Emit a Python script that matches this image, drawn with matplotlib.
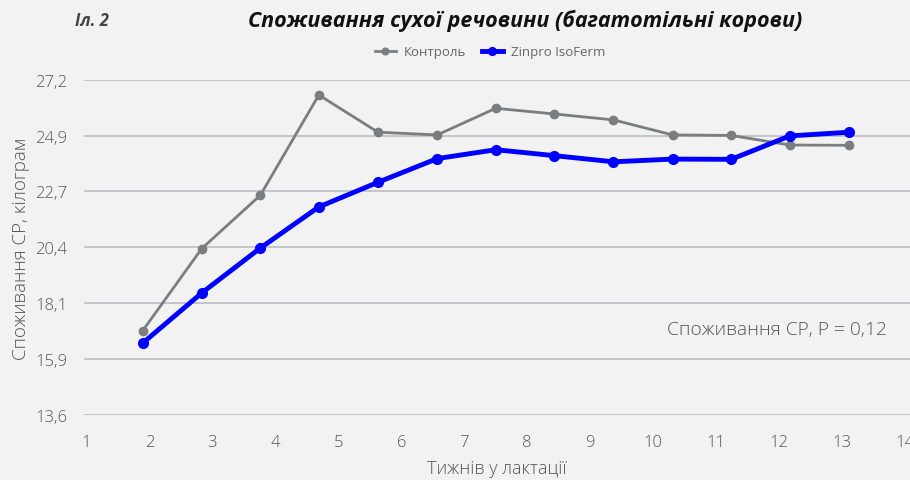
import numpy as np
import matplotlib
matplotlib.use('Agg')
import matplotlib.pyplot as plt

# Data
weeks = [1.89, 2.83, 3.76, 4.69, 5.63, 6.57, 7.50, 8.43, 9.37, 10.31, 11.24, 12.17, 13.11]
control = [17.01, 20.35, 22.51, 26.58, 25.07, 24.96, 26.04, 25.81, 25.57, 24.96, 24.94, 24.55, 24.54]
isoferm = [16.51, 18.55, 20.37, 22.04, 23.04, 24.00, 24.36, 24.12, 23.87, 23.98, 23.97, 24.92, 25.07]
x_ticks = list(range(1, 15))
y_ticks = [13.6, 15.867, 18.133, 20.4, 22.667, 24.933, 27.2]
y_labels = ['13,6', '15,9', '18,1', '20,4', '22,7', '24,9', '27,2']

plt.rcParams['font.family'] = ['Open Sans', 'DejaVu Sans']

bg = '#f2f2f2'
fig = plt.figure(figsize=(9.10, 4.81), dpi=100, facecolor=bg)
ax = fig.add_axes([84 / 910, 1 - 416 / 481, 826 / 910, (416 - 80.7) / 481])
ax.set_facecolor(bg)

ax.plot(weeks, control, color='#7a7e80', lw=2, marker='o', ms=6, label='Контроль', zorder=3)
ax.plot(weeks, isoferm, color='#0000ff', lw=3.5, marker='o', ms=7, label='Zinpro IsoFerm', zorder=4)

ax.set_xlim(0.96, 14.08)
ax.set_ylim(13.6, 27.2)
ax.set_xticks(x_ticks)
ax.set_yticks(y_ticks)
ax.set_yticklabels(y_labels)
ax.grid(axis='y', color='#bfc3c7', lw=1.3)
ax.set_axisbelow(True)
for s in ax.spines.values():
    s.set_visible(False)
ax.tick_params(length=0, labelsize=12, labelcolor='#555555')
ax.tick_params(axis='x', pad=14)
ax.tick_params(axis='y', pad=12)
for lbl in ax.get_xticklabels() + ax.get_yticklabels():
    lbl.set_fontweight('light')

ax.set_xlabel('Тижнів у лактації', fontsize=13, color='#555555', labelpad=6, fontweight='light')
ax.set_ylabel('Споживання СР, кілограм', fontsize=13.5, color='#555555', labelpad=4,
              fontweight='light')

ax.text(13.71, 17.09, 'Споживання СР, Р = 0,12', fontsize=13.8, color='#555555',
        ha='right', va='center', fontweight='light')

fig.text(75 / 910, 1 - 21 / 481, 'Іл. 2', fontsize=12, fontweight='bold', style='italic',
         color='#444444', ha='left', va='center')
fig.text(525 / 910, 1 - 21 / 481, 'Споживання сухої речовини (багатотільні корови)', fontsize=15.5,
         fontweight='bold', style='italic', color='#111111', ha='center', va='center')

leg = fig.legend(loc='center', bbox_to_anchor=(490 / 910, 1 - 53 / 481), ncol=2, frameon=False,
                 fontsize=9.5, handlelength=1.6, columnspacing=1.2, handletextpad=0.6, markerscale=0.8)
for t in leg.get_texts():
    t.set_color('#666666')

plt.savefig('out.png', dpi=100, facecolor=bg)
